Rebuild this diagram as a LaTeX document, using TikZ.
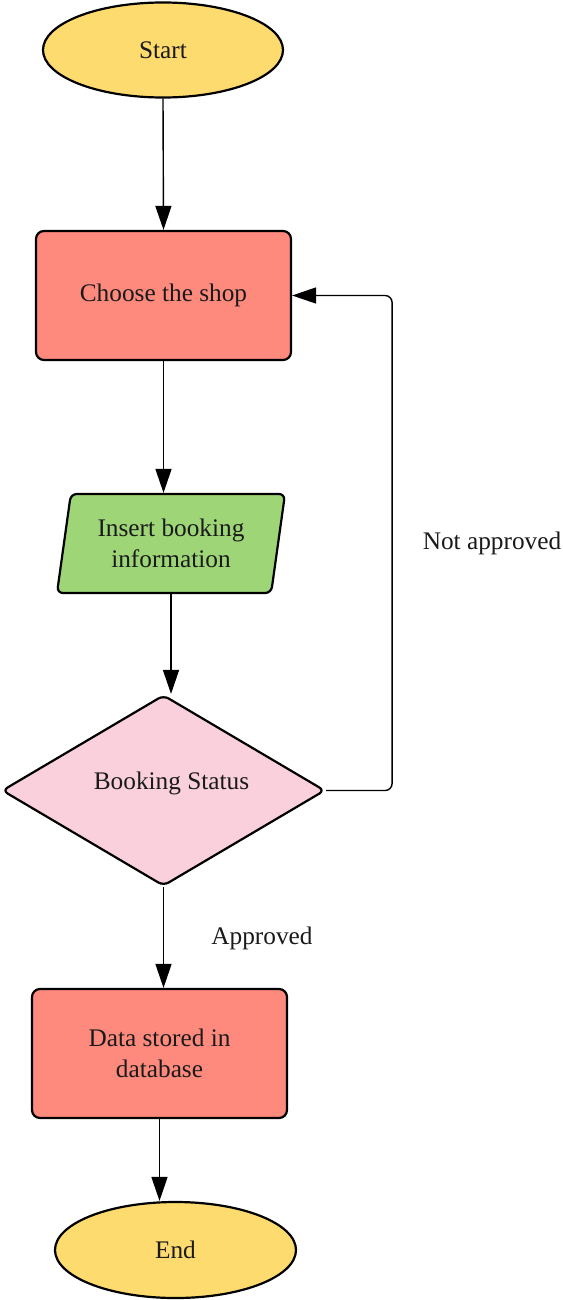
\documentclass[tikz,border=0pt]{standalone}
\usepackage{fontspec}
\setmainfont{Liberation Serif}
\usetikzlibrary{shapes.geometric,arrows.meta}
\definecolor{termfill}{HTML}{FDDB6E}
\definecolor{procfill}{HTML}{FE8A7E}
\definecolor{iofill}{HTML}{9ED677}
\definecolor{decfill}{HTML}{F9D0DC}
\definecolor{txt}{HTML}{1A1A1A}
\tikzset{
  base/.style={draw=black, line width=2.2pt, text=txt, align=center, font=\fontsize{25.3}{30.5}\selectfont, inner sep=0pt},
  term/.style={base, ellipse, fill=termfill},
  proc/.style={base, rectangle, rounded corners=8pt, fill=procfill, minimum width=255pt, minimum height=129pt},
  iobox/.style={base, trapezium, trapezium left angle=74, trapezium right angle=106, trapezium stretches body, rounded corners=6pt, fill=iofill, minimum width=228pt, minimum height=99pt},
  decbox/.style={base, diamond, rounded corners=6pt, fill=decfill, minimum width=323pt, minimum height=191pt},
  conn/.style={draw=black, line width=1.4pt, -{Triangle[length=24pt,width=16pt]}},
  lbl/.style={text=txt, font=\fontsize{25.3}{30.5}\selectfont, inner sep=0pt}
}
\begin{document}
\begin{tikzpicture}[x=1pt,y=-1pt]
\useasboundingbox[fill=white] (0,0) rectangle (562,1300);
\node[term, minimum width=240pt, minimum height=95pt] (start) at (163,50) {Start};
\node[proc] (choose) at (163.5,295.5) {Choose the shop};
\node[iobox] (insert) at (171,543.5) {Insert booking\\information};
\node[decbox, label={[lbl, xshift=8pt, yshift=7pt]center:Booking Status}] (dec) at (163.5,790.5) {};
\node[proc] (data) at (159.5,1053.5) {Data stored in\\database};
\node[term, minimum width=241pt, minimum height=96pt] (end) at (175.5,1250) {End};
\node[lbl] (appr) at (262,938) {Approved};
\node[lbl] (napp) at (492,543) {Not approved};
\draw[conn] (start.south) -- (choose.north);
\draw[conn] (choose.south) -- (choose.south |- insert.north);
\draw[conn] (insert.south) -- (insert.south |- dec.north);
\draw[conn] (dec.south) -- (dec.south |- data.north);
\draw[conn] (data.south) -- (data.south |- end.north);
\draw[conn, rounded corners=7pt] (dec.east) -- ++(66,0) |- (choose.east);
\end{tikzpicture}
\end{document}
